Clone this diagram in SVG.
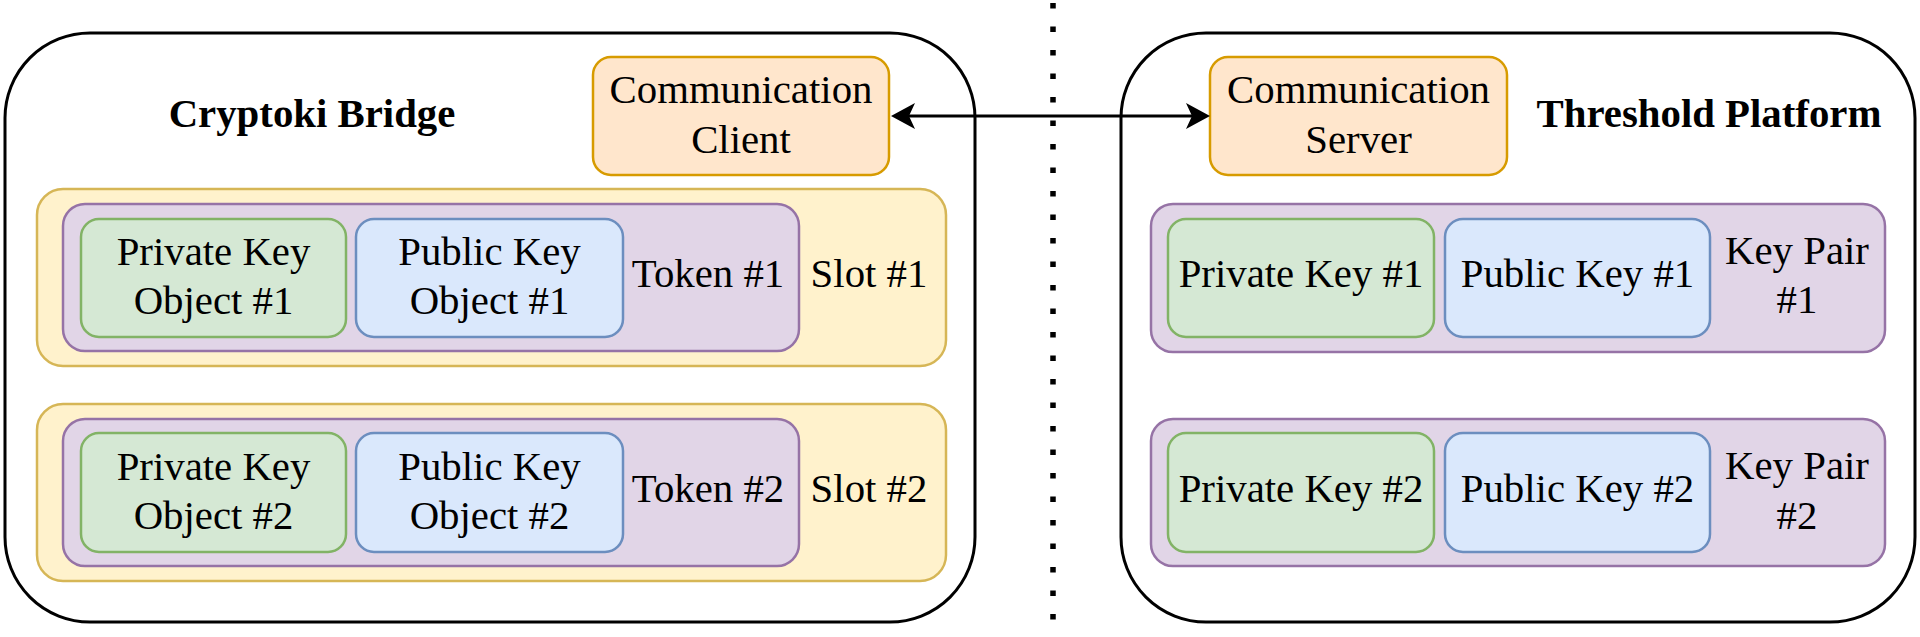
<svg xmlns="http://www.w3.org/2000/svg" width="1920" height="637" viewBox="0 0 1920 637">
<style>
text{font-family:"Liberation Serif","Times New Roman",serif;font-size:40.8px;fill:#000;text-anchor:middle}
.b{font-weight:bold}
.outer{fill:#fff;stroke:#000;stroke-width:3}
.org{fill:#ffe6cc;stroke:#d79b00;stroke-width:2.5}
.yel{fill:#fff2cc;stroke:#d6b656;stroke-width:2.5}
.pur{fill:#e1d5e7;stroke:#9673a6;stroke-width:2.5}
.grn{fill:#d5e8d4;stroke:#82b366;stroke-width:2.5}
.blu{fill:#dae8fc;stroke:#6c8ebf;stroke-width:2.5}
.line{stroke:#000;stroke-width:3;fill:none}
.dot{stroke:#000;stroke-width:5.5;stroke-dasharray:5.5 18;fill:none}
</style>
<rect width="1920" height="637" fill="#fff"/>
<g id="cryptoki-bridge">
<rect class="outer" x="5" y="33" width="970" height="589" rx="85"/>
<text class="b" x="312" y="127">Cryptoki Bridge</text>
</g>
<g id="threshold-platform">
<rect class="outer" x="1121" y="33" width="794" height="589" rx="85"/>
<text class="b" x="1709" y="127">Threshold Platform</text>
</g>
<g id="communication-client">
<rect class="org" x="593" y="57" width="296" height="118" rx="18"/>
<text x="741" y="103">Communication</text>
<text x="741" y="152.5">Client</text>
</g>
<g id="communication-server">
<rect class="org" x="1210" y="57" width="297" height="118" rx="18"/>
<text x="1358.5" y="103">Communication</text>
<text x="1358.5" y="152.5">Server</text>
</g>
<g id="slot-1">
<rect class="yel" x="37" y="189" width="909" height="177" rx="26"/>
<text x="869" y="287">Slot #1</text>
</g>
<g id="token-1">
<rect class="pur" x="63" y="204" width="736" height="147" rx="22"/>
<text x="708" y="287">Token #1</text>
</g>
<g id="private-key-object-1">
<rect class="grn" x="81" y="219" width="265" height="118" rx="18"/>
<text x="213.5" y="265">Private Key</text>
<text x="213.5" y="314">Object #1</text>
</g>
<g id="public-key-object-1">
<rect class="blu" x="356" y="219" width="267" height="118" rx="18"/>
<text x="489.5" y="265">Public Key</text>
<text x="489.5" y="314">Object #1</text>
</g>
<g id="slot-2">
<rect class="yel" x="37" y="404" width="909" height="177" rx="26"/>
<text x="869" y="502">Slot #2</text>
</g>
<g id="token-2">
<rect class="pur" x="63" y="419" width="736" height="147" rx="22"/>
<text x="708" y="502">Token #2</text>
</g>
<g id="private-key-object-2">
<rect class="grn" x="81" y="433" width="265" height="119" rx="18"/>
<text x="213.5" y="479.5">Private Key</text>
<text x="213.5" y="528.5">Object #2</text>
</g>
<g id="public-key-object-2">
<rect class="blu" x="356" y="433" width="267" height="119" rx="18"/>
<text x="489.5" y="479.5">Public Key</text>
<text x="489.5" y="528.5">Object #2</text>
</g>
<g id="key-pair-1">
<rect class="pur" x="1151" y="204" width="734" height="148" rx="22"/>
<text x="1797" y="263.5">Key Pair</text>
<text x="1797" y="313">#1</text>
</g>
<g id="private-key-1">
<rect class="grn" x="1168" y="219" width="266" height="118" rx="18"/>
<text x="1301" y="287">Private Key #1</text>
</g>
<g id="public-key-1">
<rect class="blu" x="1445" y="219" width="265" height="118" rx="18"/>
<text x="1577.5" y="287">Public Key #1</text>
</g>
<g id="key-pair-2">
<rect class="pur" x="1151" y="419" width="734" height="147" rx="22"/>
<text x="1797" y="479">Key Pair</text>
<text x="1797" y="528.5">#2</text>
</g>
<g id="private-key-2">
<rect class="grn" x="1168" y="433" width="266" height="119" rx="18"/>
<text x="1301" y="502">Private Key #2</text>
</g>
<g id="public-key-2">
<rect class="blu" x="1445" y="433" width="265" height="119" rx="18"/>
<text x="1577.5" y="502">Public Key #2</text>
</g>
<g id="connectors">
<line class="dot" x1="1053" y1="3" x2="1053" y2="625"/>
<line class="line" x1="908" y1="116" x2="1193" y2="116"/>
<path d="M891,116 L915,103 L909,116 L915,129 Z" fill="#000"/>
<path d="M1210,116 L1186,103 L1192,116 L1186,129 Z" fill="#000"/>
</g>
</svg>
